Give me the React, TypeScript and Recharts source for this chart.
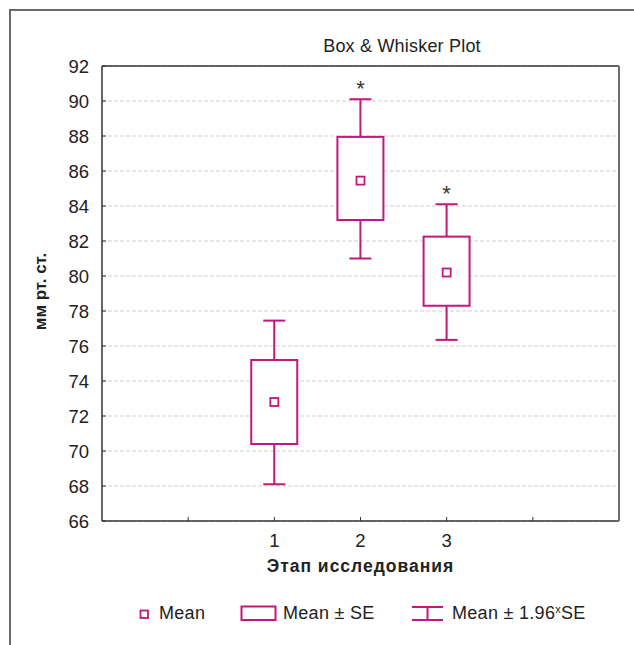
import {Bar, CartesianGrid, ComposedChart, LabelList, Scatter, XAxis, YAxis} from 'recharts'

// values
const stages = [1, 2, 3]
const means = [72.8, 85.45, 80.2]
const seLow = [70.4, 83.2, 78.3]
const seHigh = [75.2, 87.95, 82.25]
const ciLow = [68.1, 81.0, 76.35]
const ciHigh = [77.45, 90.1, 84.1]
const marks = ['', '*', '*']

const xTicks = [0, 1, 2, 3, 4]
const xTickLabels = ['', '1', '2', '3', '']
const yTicks = [66, 68, 70, 72, 74, 76, 78, 80, 82, 84, 86, 88, 90, 92]

const MAGENTA = '#c2177b'
const INK = '#222'
const FONT = '"Liberation Sans", Arial, Helvetica, sans-serif'

const rows = stages.map((stage, i) => ({
    stage,
    mean: means[i],
    se: [seLow[i], seHigh[i]],
    ci: [ciLow[i], ciHigh[i]],
    mark: marks[i],
}))

function WhiskerShape(props: any) {
    const {x, y, width, height} = props
    const cx = x + width / 2
    return (
        <g stroke={MAGENTA} strokeWidth={2} fill="none">
            <line x1={cx} x2={cx} y1={y} y2={y + height}/>
            <line x1={x} x2={x + width} y1={y} y2={y}/>
            <line x1={x} x2={x + width} y1={y + height} y2={y + height}/>
        </g>
    )
}

function BoxShape(props: any) {
    const {x, y, width, height} = props
    return <rect x={x} y={y} width={width} height={height} fill="#fff" stroke={MAGENTA} strokeWidth={2}/>
}

function MeanShape(props: any) {
    const {cx, cy} = props
    return <rect x={cx - 4} y={cy - 4} width={8} height={8} fill="#fff" stroke={MAGENTA} strokeWidth={1.8}/>
}

function TitleLabel(props: any) {
    const vb = props.viewBox ?? {x: 102, y: 36, width: 517, height: 30}
    return (
        <text x={vb.x + 300} y={vb.y + 16} textAnchor="middle" fill={INK}
              fontFamily={FONT} fontSize={18} letterSpacing={0.2}>
            Box &amp; Whisker Plot
        </text>
    )
}

function XTitle(props: any) {
    const vb = props.viewBox ?? {x: 102, y: 521, width: 517, height: 70}
    return (
        <text x={vb.x + vb.width / 2} y={vb.y + 51} textAnchor="middle" fill={INK}
              fontFamily={FONT} fontSize={17.5} fontWeight="bold" letterSpacing={1}>
            Этап исследования
        </text>
    )
}

function YTitle(props: any) {
    const vb = props.viewBox ?? {x: 30, y: 66, width: 72, height: 455}
    const cx = 40
    const cy = vb.y + vb.height / 2 - 2
    return (
        <text x={cx} y={cy} transform={`rotate(-90 ${cx} ${cy})`} textAnchor="middle"
              dominantBaseline="central" fill={INK} fontFamily={FONT} fontSize={17}
              fontWeight="bold">
            мм рт. ст.
        </text>
    )
}

const tickStyle = {fill: INK, fontSize: 18.5, fontFamily: FONT}

function Legend() {
    const text = {position: 'absolute' as const, top: 603, lineHeight: '20px', fontSize: 18, fontFamily: FONT, color: INK, letterSpacing: 0.3}
    return (
        <>
            <svg style={{position: 'absolute', left: 139, top: 609}} width={11} height={11}>
                <rect x={1.5} y={1.5} width={7.5} height={7.5} fill="#fff" stroke={MAGENTA} strokeWidth={1.8}/>
            </svg>
            <span style={{...text, left: 159}}>Mean</span>
            <svg style={{position: 'absolute', left: 240, top: 605}} width={38} height={17}>
                <rect x={1.5} y={1.5} width={34} height={13.5} fill="#fff" stroke={MAGENTA} strokeWidth={2}/>
            </svg>
            <span style={{...text, left: 283}}>Mean ± SE</span>
            <svg style={{position: 'absolute', left: 411, top: 605}} width={33} height={17}>
                <g stroke={MAGENTA} strokeWidth={2}>
                    <line x1={1} x2={32} y1={2} y2={2}/>
                    <line x1={1} x2={32} y1={15} y2={15}/>
                    <line x1={16.5} x2={16.5} y1={2} y2={15}/>
                </g>
            </svg>
            <span style={{...text, left: 452}}>
                Mean ± 1.96<span style={{fontSize: 11, position: 'relative', top: -6}}>x</span>SE
            </span>
        </>
    )
}

export default function App() {
    return (
        <div style={{position: 'relative', width: 634, height: 645, background: '#fff', overflow: 'hidden'}}>
            <style>{'body{margin:0}'}</style>
            <div style={{
                position: 'absolute', left: 9, top: 9, width: 640, height: 650,
                borderTop: '2px solid #6a6a6a', borderLeft: '2px solid #6a6a6a',
            }}/>
            <div style={{position: 'absolute', left: 0, top: 0}}>
                <ComposedChart width={634} height={645} data={rows}
                               margin={{top: 36, right: 5, bottom: 54, left: 30}}>
                    <CartesianGrid xAxisId="b" yAxisId="l" vertical={false}
                                   stroke="#cfcfcf" strokeDasharray="4 2"/>
                    <XAxis xAxisId="b" dataKey="stage" type="number" domain={[-1, 5]} ticks={xTicks}
                           interval={0} allowDataOverflow height={70}
                           tickFormatter={(v) => xTickLabels[xTicks.indexOf(v)] ?? ''}
                           tickSize={-4} tickMargin={17} tick={tickStyle}
                           axisLine={{stroke: '#333', strokeWidth: 1.5}} tickLine={{stroke: '#333'}}
                           label={<XTitle/>}/>
                    <XAxis xAxisId="t" dataKey="stage" type="number" orientation="top" domain={[-1, 5]}
                           ticks={xTicks} interval={0} allowDataOverflow height={30}
                           tickSize={-4} tick={false}
                           axisLine={{stroke: '#333', strokeWidth: 1.5}} tickLine={{stroke: '#333'}}
                           label={<TitleLabel/>}/>
                    <YAxis yAxisId="l" type="number" domain={[66, 92]} ticks={yTicks} interval={0}
                           allowDataOverflow width={72} tickSize={-4} tickMargin={17} tick={tickStyle}
                           axisLine={{stroke: '#333', strokeWidth: 1.5}} tickLine={{stroke: '#333'}}
                           label={<YTitle/>}/>
                    <YAxis yAxisId="r" orientation="right" type="number" domain={[66, 92]} ticks={yTicks}
                           interval={0} allowDataOverflow width={10} tickSize={-4} tick={false}
                           axisLine={{stroke: '#6e6e6e', strokeWidth: 2}} tickLine={{stroke: '#333'}}/>
                    <Bar xAxisId="b" yAxisId="l" dataKey="ci" barSize={22} shape={<WhiskerShape/>}
                         isAnimationActive={false}>
                        <LabelList dataKey="mark" position="top" offset={3} fill="#333"
                                   fontSize={22} fontFamily={FONT}/>
                    </Bar>
                    <Bar xAxisId="t" yAxisId="l" dataKey="se" barSize={46} shape={<BoxShape/>}
                         isAnimationActive={false}/>
                    <Scatter xAxisId="b" yAxisId="l" dataKey="mean" shape={<MeanShape/>}
                             isAnimationActive={false}/>
                </ComposedChart>
            </div>
            <Legend/>
        </div>
    )
}
